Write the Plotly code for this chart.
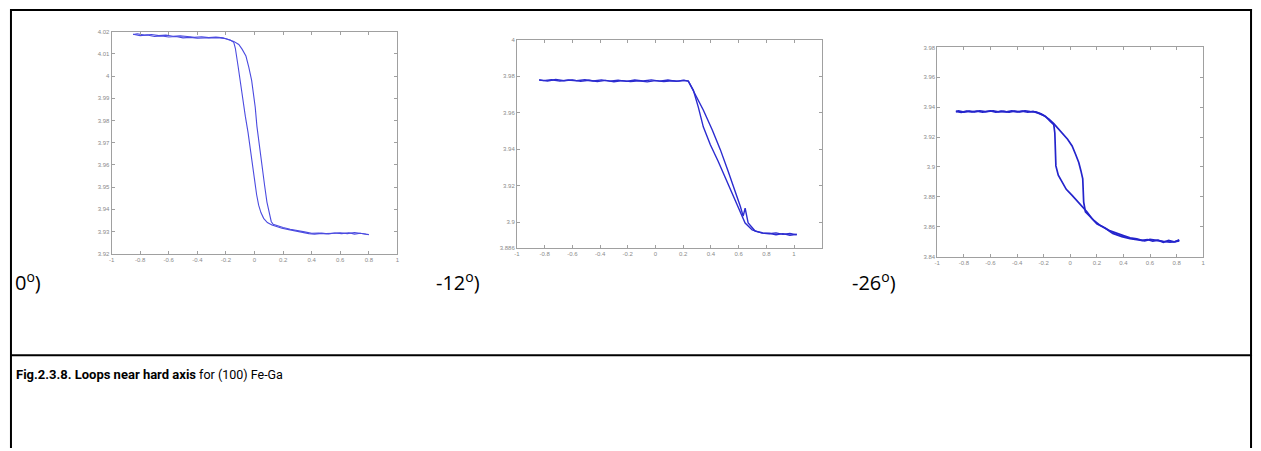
import plotly.graph_objects as go

W, H = 1261, 451

# ---------------- data ----------------
# Panel 1 : 0 deg
p1_x_fwd = [-0.85,-0.8,-0.75,-0.7,-0.65,-0.6,-0.55,-0.5,-0.45,-0.4,-0.35,-0.3,-0.25,-0.2,-0.17,-0.145,-0.134,-0.115,-0.099,-0.08,-0.064,-0.045,-0.029,-0.013,0.001,0.015,0.029,0.045,0.064,0.09,0.122,0.16,0.192,0.24,0.284,0.33,0.38,0.42,0.47,0.52,0.56,0.61,0.66,0.7,0.74,0.78,0.8]
p1_y_fwd = [4.0188,4.0182,4.0185,4.0178,4.0181,4.0176,4.0178,4.0172,4.0174,4.0170,4.0172,4.0171,4.0173,4.0168,4.0162,4.0152,4.0125,4.0045,3.9966,3.9890,3.9818,3.9745,3.967,3.959,3.952,3.9465,3.9418,3.9385,3.9359,3.9340,3.9329,3.9320,3.9314,3.9308,3.9302,3.9296,3.9290,3.9288,3.9291,3.9289,3.9293,3.9290,3.9294,3.9288,3.9292,3.9287,3.9285]
p1_x_back = [0.8,0.75,0.7,0.65,0.6,0.55,0.5,0.45,0.4,0.35,0.3,0.25,0.2,0.16,0.13,0.117,0.105,0.087,0.07,0.052,0.035,0.017,0.005,-0.006,-0.02,-0.04,-0.06,-0.087,-0.11,-0.145,-0.18,-0.22,-0.27,-0.32,-0.37,-0.42,-0.47,-0.52,-0.57,-0.62,-0.67,-0.72,-0.77,-0.82,-0.85]
p1_y_back = [3.9286,3.9291,3.9295,3.9290,3.9294,3.9292,3.9290,3.9293,3.9292,3.9298,3.9303,3.9310,3.9318,3.9325,3.9332,3.9345,3.9385,3.9432,3.951,3.9596,3.969,3.9773,3.986,3.9921,3.998,4.004,4.009,4.0121,4.0142,4.0156,4.0165,4.0172,4.0176,4.0173,4.0177,4.0174,4.0178,4.0181,4.0179,4.0184,4.0182,4.0187,4.0184,4.0190,4.0187]

# Panel 2 : -12 deg
p2_x_fwd = [-0.84,-0.78,-0.72,-0.66,-0.6,-0.54,-0.48,-0.42,-0.36,-0.3,-0.24,-0.18,-0.12,-0.06,0.0,0.06,0.12,0.17,0.21,0.237,0.273,0.309,0.345,0.396,0.453,0.511,0.568,0.612,0.647,0.698,0.77,0.82,0.87,0.92,0.97,1.02]
p2_y_fwd = [3.9779,3.9773,3.9781,3.9774,3.9779,3.9771,3.9777,3.9770,3.9776,3.9769,3.9775,3.9770,3.9774,3.9768,3.9775,3.9770,3.9774,3.9772,3.9776,3.9772,3.9723,3.9630,3.9522,3.9424,3.9332,3.9234,3.9136,3.9060,3.8995,3.8957,3.8940,3.8936,3.8941,3.8933,3.8938,3.8930]
p2_x_back = [1.02,0.97,0.92,0.87,0.82,0.77,0.719,0.669,0.647,0.633,0.612,0.576,0.525,0.468,0.41,0.345,0.288,0.237,0.2,0.15,0.09,0.03,-0.03,-0.09,-0.15,-0.21,-0.27,-0.33,-0.39,-0.45,-0.51,-0.57,-0.63,-0.69,-0.75,-0.81,-0.84]
p2_y_back = [3.8934,3.8928,3.8937,3.8931,3.8939,3.8942,3.8951,3.8995,3.9076,3.9033,3.9087,3.9168,3.9277,3.9397,3.9505,3.9614,3.9701,3.9772,3.9777,3.9771,3.9778,3.9772,3.9779,3.9773,3.9778,3.9771,3.9777,3.9772,3.9779,3.9773,3.9780,3.9774,3.9778,3.9772,3.9780,3.9775,3.9778]

# Panel 3 : -26 deg
p3_x_fwd = [-0.86,-0.82,-0.78,-0.74,-0.7,-0.66,-0.62,-0.58,-0.54,-0.5,-0.46,-0.42,-0.38,-0.34,-0.3,-0.26,-0.22,-0.186,-0.15,-0.124,-0.116,-0.113,-0.11,-0.108,-0.09,-0.061,-0.03,0.014,0.05,0.088,0.125,0.163,0.2,0.264,0.32,0.388,0.45,0.513,0.56,0.6,0.64,0.7,0.75,0.79,0.82]
p3_y_fwd = [3.9372,3.9365,3.9374,3.9368,3.9373,3.9366,3.9371,3.9375,3.9368,3.9372,3.9366,3.9374,3.9369,3.9376,3.9370,3.9368,3.9355,3.9338,3.9305,3.9283,3.9227,3.9150,3.9070,3.9007,3.8945,3.8897,3.8850,3.8810,3.8775,3.8743,3.8700,3.8655,3.8620,3.8590,3.8555,3.8534,3.8520,3.8512,3.8505,3.8515,3.8508,3.8502,3.8497,3.8500,3.8512]
p3_x_back = [0.82,0.78,0.74,0.7,0.66,0.62,0.58,0.54,0.5,0.45,0.4,0.35,0.3,0.264,0.22,0.18,0.14,0.114,0.101,0.1,0.094,0.08,0.064,0.04,0.014,-0.02,-0.061,-0.09,-0.124,-0.16,-0.2,-0.24,-0.28,-0.32,-0.36,-0.4,-0.44,-0.48,-0.52,-0.56,-0.6,-0.64,-0.68,-0.72,-0.76,-0.8,-0.84,-0.86]
p3_y_back = [3.8505,3.8498,3.8508,3.8495,3.8510,3.8503,3.8514,3.8508,3.8518,3.8525,3.8540,3.8555,3.8572,3.8590,3.8612,3.8640,3.8675,3.8700,3.8765,3.8840,3.8920,3.8975,3.9030,3.9085,3.9140,3.9185,3.9227,3.9260,3.9290,3.9320,3.9345,3.9360,3.9372,3.9366,3.9374,3.9368,3.9375,3.9369,3.9373,3.9366,3.9375,3.9370,3.9376,3.9368,3.9374,3.9367,3.9375,3.9370]

x_ticks = [-1,-0.8,-0.6,-0.4,-0.2,0,0.2,0.4,0.6,0.8,1]
x_tick_labels = ["-1","-0.8","-0.6","-0.4","-0.2","0","0.2","0.4","0.6","0.8","1"]
p1_y_ticks = [3.92,3.93,3.94,3.95,3.96,3.97,3.98,3.99,4.0,4.01,4.02]
p1_y_labels = ["3.92","3.93","3.94","3.95","3.96","3.97","3.98","3.99","4","4.01","4.02"]
p2_y_ticks = [3.886,3.9,3.92,3.94,3.96,3.98,4.0]
p2_y_labels = ["3.886","3.9","3.92","3.94","3.96","3.98","4"]
p3_y_ticks = [3.84,3.86,3.88,3.9,3.92,3.94,3.96,3.98]
p3_y_labels = ["3.84","3.86","3.88","3.9","3.92","3.94","3.96","3.98"]

panel_labels = ["0<sup>o</sup>)", "-12<sup>o</sup>)", "-26<sup>o</sup>)"]
caption_bold = "Fig.2.3.8. Loops near hard axis"
caption_rest = " for (100) Fe-Ga"

# ---------------- figure ----------------
def px_dom_x(a, b):
    return [a / W, b / W]

def px_dom_y(top, bottom):
    return [(H - bottom) / H, (H - top) / H]

fig = go.Figure()
panels = [
    (p1_x_fwd, p1_y_fwd, p1_x_back, p1_y_back, "#4b4be0", 1.1),
    (p2_x_fwd, p2_y_fwd, p2_x_back, p2_y_back, "#2c2cd0", 1.4),
    (p3_x_fwd, p3_y_fwd, p3_x_back, p3_y_back, "#2424cc", 1.7),
]
for i, (xf, yf, xb, yb, col, lw) in enumerate(panels, start=1):
    xa = "x" if i == 1 else f"x{i}"
    ya = "y" if i == 1 else f"y{i}"
    fig.add_trace(go.Scatter(x=xf, y=yf, mode="lines", line=dict(color=col, width=lw),
                             xaxis=xa, yaxis=ya, showlegend=False, hoverinfo="skip"))
    fig.add_trace(go.Scatter(x=xb, y=yb, mode="lines", line=dict(color=col, width=lw),
                             xaxis=xa, yaxis=ya, showlegend=False, hoverinfo="skip"))

axis_common = dict(showgrid=False, zeroline=False, showline=True, linecolor="#a0a0a0",
                   linewidth=1, mirror="ticks", ticks="inside", ticklen=3, tickcolor="#a0a0a0",
                   tickfont=dict(family="Liberation Sans", size=6, color="#8a8a8a"))

boxes = [
    ((109, 396), (29, 254), [-1, 1], [3.92, 4.02], p1_y_ticks, p1_y_labels),
    ((516, 822), (37, 248), [-1, 1.2], [3.886, 4.0], p2_y_ticks, p2_y_labels),
    ((938, 1205), (45, 257), [-1, 1], [3.84, 3.98], p3_y_ticks, p3_y_labels),
]
lay = {}
for i, ((xl, xr), (yt, yb), xr_, yr, yt_vals, yt_labs) in enumerate(boxes, start=1):
    xk = "xaxis" if i == 1 else f"xaxis{i}"
    yk = "yaxis" if i == 1 else f"yaxis{i}"
    lay[xk] = dict(axis_common, domain=px_dom_x(xl, xr), range=xr_,
                   tickvals=x_ticks, ticktext=x_tick_labels,
                   anchor="y" if i == 1 else f"y{i}")
    lay[yk] = dict(axis_common, domain=px_dom_y(yt, yb), range=yr,
                   tickvals=yt_vals, ticktext=yt_labs,
                   anchor="x" if i == 1 else f"x{i}")
fig.update_layout(**lay)

ann = []
label_x = [10, 433, 850]
for lx, txt in zip(label_x, panel_labels):
    ann.append(dict(x=lx / W, y=(H - 282) / H, xref="paper", yref="paper", text=txt,
                    showarrow=False, xanchor="left", yanchor="middle",
                    font=dict(family="Open Sans", size=20, color="#000000")))
ann.append(dict(x=11 / W, y=(H - 377) / H, xref="paper", yref="paper",
                text="<b>" + caption_bold + "</b><span style='font-size:12.5px'>" + caption_rest + "</span>",
                showarrow=False, xanchor="left", yanchor="middle",
                font=dict(family="Roboto", size=13, color="#000000")))

shapes = []
def hline(y, x0, x1):
    shapes.append(dict(type="line", xref="paper", yref="paper", x0=x0 / W, x1=x1 / W,
                       y0=(H - y) / H, y1=(H - y) / H, line=dict(color="black", width=2)))
def vline(x, y0, y1):
    shapes.append(dict(type="line", xref="paper", yref="paper", x0=x / W, x1=x / W,
                       y0=(H - y0) / H, y1=(H - y1) / H, line=dict(color="black", width=2)))
hline(7, 8, 1254)
hline(357, 8, 1254)
vline(8, 6, 451)
vline(1253, 6, 451)

fig.update_layout(width=W, height=H, margin=dict(l=0, r=0, t=0, b=0),
                  paper_bgcolor="white", plot_bgcolor="white",
                  annotations=ann, shapes=shapes)

fig.write_html("out.html", config={"displayModeBar": False},
               post_script="document.body.style.margin='0';document.body.style.overflow='hidden';")
